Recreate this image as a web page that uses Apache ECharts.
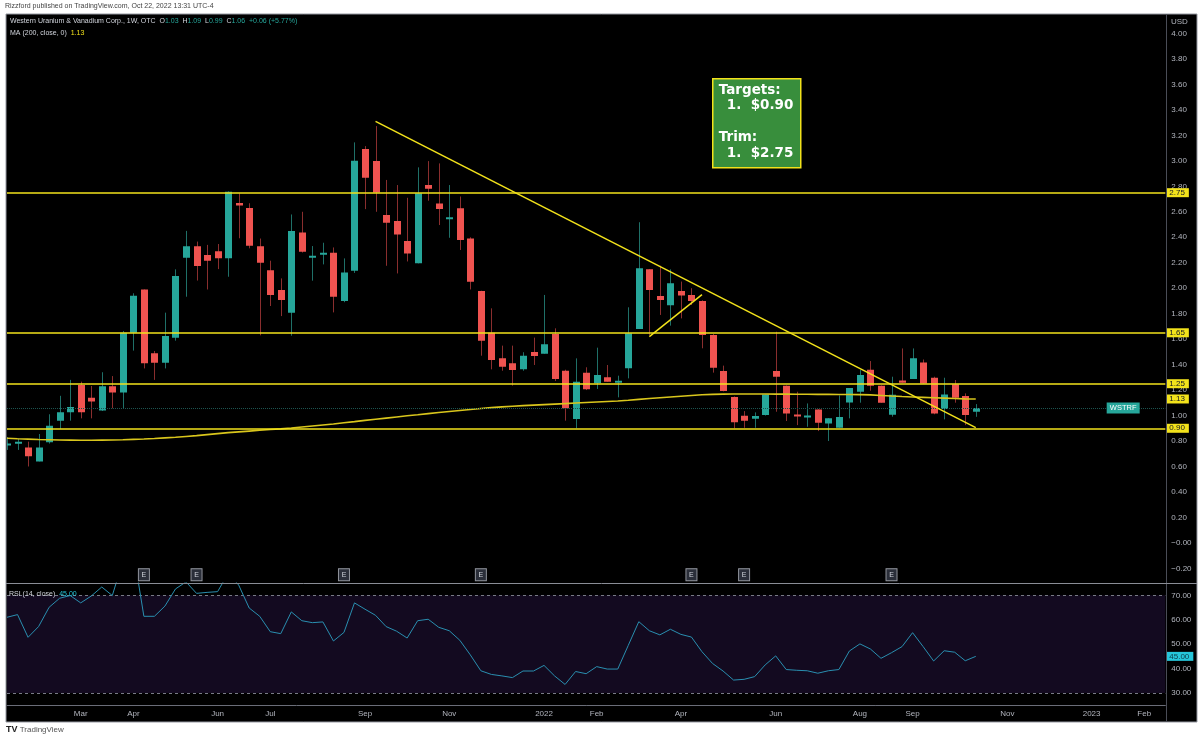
<!DOCTYPE html>
<html><head><meta charset="utf-8">
<script src="https://cdn.jsdelivr.net/npm/echarts@6/dist/echarts.min.js"></script>
<style>html,body{margin:0;padding:0;background:#fff;}#c{width:1200px;height:740px;}</style>
</head><body><div id="c"></div>
<script>
// ---------- data ----------
const firstWeek = '2021-01-11';
const weeksShown = 111; // includes empty future weeks on the right
const openP  = [0.77,0.79,0.75,0.64,0.79,0.96,1.025,1.24,1.14,1.04,1.23,1.18,1.65,1.99,1.49,1.415,1.61,2.24,2.33,2.26,2.29,2.235,2.67,2.63,2.33,2.14,1.985,1.807,2.438,2.245,2.268,2.278,1.899,2.137,3.093,2.998,2.574,2.527,2.37,2.195,2.81,2.666,2.55,2.627,2.39,1.978,1.651,1.449,1.41,1.363,1.499,1.486,1.64,1.352,0.973,1.337,1.253,1.30,1.268,1.371,1.68,2.148,1.939,1.866,1.978,1.947,1.90,1.633,1.35,1.145,0.999,0.975,1.004,1.349,1.234,1.009,0.995,1.048,0.938,0.904,1.103,1.187,1.36,1.234,1.006,1.276,1.287,1.417,1.297,1.051,1.245,1.153,1.03];
const highP  = [0.83,0.82,0.795,0.855,1.01,1.155,1.28,1.266,1.232,1.34,1.31,1.664,1.96,1.99,1.507,1.808,2.148,2.45,2.366,2.34,2.347,2.76,2.745,2.667,2.39,2.216,2.077,2.579,2.60,2.331,2.357,2.32,2.234,3.145,3.116,3.273,2.85,2.81,2.71,2.949,2.998,2.98,2.81,2.72,2.40,1.98,1.842,1.549,1.549,1.497,1.612,1.947,1.685,1.36,1.449,1.379,1.533,1.397,1.313,1.85,2.518,2.15,2.177,2.148,2.052,2.0,1.905,1.64,1.392,1.15,1.035,1.025,1.166,1.658,1.236,1.187,1.095,1.05,0.98,1.158,1.216,1.357,1.428,1.236,1.305,1.527,1.527,1.44,1.305,1.297,1.279,1.174,1.09];
const lowP   = [0.73,0.73,0.60,0.64,0.78,0.895,0.96,0.978,0.978,1.036,1.057,1.057,1.51,1.37,1.28,1.37,1.588,1.933,2.06,1.99,2.15,2.09,2.392,2.313,1.63,1.86,1.781,1.627,2.28,2.059,2.187,1.81,1.89,2.12,2.621,2.60,2.176,2.116,2.21,2.195,2.687,2.496,2.396,2.30,1.99,1.47,1.363,1.352,1.235,1.352,1.397,1.486,1.271,0.96,0.90,1.20,1.209,1.266,1.143,1.292,1.68,1.633,1.79,1.706,1.763,1.868,1.528,1.337,1.19,0.90,0.904,0.904,1.00,1.03,0.957,0.925,0.912,0.878,0.80,0.904,0.978,1.101,1.195,1.101,0.991,1.258,1.287,1.25,1.01,0.97,1.101,0.925,0.99];
const closeP = [0.78,0.795,0.68,0.75,0.92,1.025,1.067,1.025,1.11,1.23,1.18,1.65,1.94,1.41,1.415,1.625,2.096,2.33,2.175,2.215,2.235,2.758,2.65,2.333,2.20,1.946,1.907,2.449,2.286,2.255,2.278,1.933,2.124,3.001,2.868,2.752,2.514,2.422,2.273,2.745,2.78,2.621,2.558,2.378,2.051,1.588,1.436,1.384,1.358,1.47,1.468,1.559,1.287,1.057,1.266,1.206,1.318,1.266,1.274,1.646,2.156,1.986,1.908,2.038,1.942,1.90,1.633,1.376,1.193,0.947,0.96,0.996,1.166,1.305,1.017,0.996,1.0,0.944,0.978,0.988,1.216,1.318,1.234,1.101,1.163,1.258,1.449,1.252,1.017,1.166,1.14,1.004,1.06];
const ma200  = [0.822,0.818,0.815,0.812,0.810,0.808,0.807,0.806,0.806,0.807,0.808,0.810,0.813,0.816,0.820,0.825,0.830,0.836,0.842,0.850,0.858,0.866,0.872,0.878,0.884,0.890,0.895,0.902,0.910,0.918,0.926,0.934,0.943,0.952,0.962,0.971,0.980,0.989,0.998,1.006,1.015,1.024,1.032,1.040,1.048,1.055,1.062,1.068,1.073,1.078,1.082,1.086,1.090,1.094,1.098,1.102,1.106,1.110,1.114,1.120,1.127,1.134,1.140,1.146,1.152,1.158,1.163,1.166,1.168,1.169,1.169,1.169,1.169,1.168,1.168,1.167,1.167,1.166,1.166,1.165,1.165,1.164,1.162,1.158,1.153,1.149,1.146,1.143,1.140,1.137,1.134,1.131,1.13];
const rsi14  = [61.0,62.1,52.8,57.2,65.1,68.8,69.9,66.9,69.7,73.4,69.9,84,88,61.4,61.4,65.6,72.6,75.5,70.8,71.2,71.5,79,74.2,64.8,61.4,55.1,54.3,63.2,59.6,58.8,59.1,51.3,54.8,66.9,64.3,61.8,57.2,55.3,52.5,59.6,60.2,56.9,55.5,51.6,45.6,39.1,37.6,37.0,36.3,39.0,39.0,41.3,37.0,33.5,38.8,37.9,40.8,39.8,39.8,49.5,59.2,55.5,53.8,56.1,54.0,52.9,46.9,42.1,39.0,35.3,35.6,36.7,41.5,45.2,39.6,39.3,39.1,38.1,39.1,39.6,47.2,50.1,48.0,44.2,46.5,49.0,54.7,49.0,43.1,47.3,46.7,43.2,45.0];
const levels = [2.75, 1.65, 1.25, 0.90];
const maLast = 1.13;
const lastClose = 1.06;
const rsiLast = 45.00;
const trendMain  = [[35, 3.31], [92, 0.905]];
const trendSmall = [[61, 1.62], [66, 1.95]];
const earningsIdx = [13, 18, 32, 45, 65, 70, 84];
const earningsLevel = -0.25;
const tagIdx = 106;
const tickIdx  = [7,12,20,25,34,42,51,56,64,73,81,86,95,103,108];
const tickText = ['Mar','Apr','Jun','Jul','Sep','Nov','2022','Feb','Apr','Jun','Aug','Sep','Nov','2023','Feb'];

// ---------- build ----------
const cats = [];
const t0 = Date.parse(firstWeek + 'T00:00:00Z');
for (let i = 0; i < weeksShown; i++) cats.push(new Date(t0 + i * 7 * 864e5).toISOString().slice(0, 10));
const ohlc = openP.map((o, i) => [i, o, closeP[i], lowP[i], highP[i]]);

const UP = '#26a69a', DN = '#ef5350', WUP = '#1f7068', WDN = '#8a2e2e';
const YEL = '#f2e21b', AX = '#b2b5be', FONT = '"Liberation Sans", Arial, sans-serif';
const CLEAR = 'rgba(0,0,0,0)';

function renderCandle(params, api) {
  const i = api.value(0), o = api.value(1), c = api.value(2), l = api.value(3), h = api.value(4);
  const po = api.coord([i, o]), pc = api.coord([i, c]), pl = api.coord([i, l]), ph = api.coord([i, h]);
  const up = c >= o;
  const x = Math.round(po[0]);
  const top = Math.min(po[1], pc[1]), bot = Math.max(po[1], pc[1]);
  return {
    type: 'group', children: [
      { type: 'line', shape: { x1: x + 0.5, y1: ph[1], x2: x + 0.5, y2: pl[1] }, style: { stroke: up ? WUP : WDN, lineWidth: 1 } },
      { type: 'rect', shape: { x: x - 3, y: top, width: 7, height: Math.max(bot - top, 2) }, style: { fill: up ? UP : DN } }
    ]
  };
}

function tagLabel(txt, bg, fg) {
  return { show: true, position: 'end', distance: 1, formatter: txt, backgroundColor: bg, color: fg,
           fontSize: 8, fontFamily: FONT, padding: [1, 4, 0, 3] };
}

const chart = echarts.init(document.getElementById('c'), null, { renderer: 'canvas' });
const option = {
  animation: false,
  backgroundColor: '#ffffff',
  textStyle: { fontFamily: FONT },
  grid: [
    { left: 7, right: 34.7, top: 14.4, height: 566.7 },
    { left: 7, right: 34.7, top: 583.1, height: 122.1 }
  ],
  xAxis: [
    { type: 'category', gridIndex: 0, data: cats, boundaryGap: false, show: false },
    { type: 'category', gridIndex: 1, data: cats, boundaryGap: false,
      axisLine: { show: true, lineStyle: { color: '#6a6d78' } }, axisTick: { show: false }, splitLine: { show: false },
      axisLabel: { color: AX, fontSize: 8, margin: 5, fontFamily: FONT,
        interval: (idx) => tickIdx.indexOf(idx) >= 0,
        formatter: (v, idx) => { const k = tickIdx.indexOf(idx); return k >= 0 ? tickText[k] : ''; } } }
  ],
  yAxis: [
    { type: 'value', gridIndex: 0, position: 'right', min: -0.3, max: 4.15, interval: 0.05,
      axisLine: { show: false }, axisTick: { show: false }, splitLine: { show: false },
      axisLabel: { color: AX, fontSize: 8, margin: 6, fontFamily: FONT,
        formatter: (v) => {
          const k = v * 5;
          if (Math.abs(k - Math.round(k)) > 1e-6 || v < -0.25 || v > 4.05) return '';
          if (Math.abs(v) < 1e-6) return '\u22120.00';
          return v < 0 ? '\u2212' + Math.abs(v).toFixed(2) : v.toFixed(2);
        } } },
    { type: 'value', gridIndex: 1, position: 'right', min: 25, max: 75, interval: 5,
      axisLine: { show: false }, axisTick: { show: false }, splitLine: { show: false },
      axisLabel: { color: AX, fontSize: 8, margin: 6, fontFamily: FONT,
        formatter: (v) => (v % 10 === 0 && v > 25 && v < 75) ? v.toFixed(2) : '' } }
  ],
  series: [
    { type: 'custom', name: 'candles', xAxisIndex: 0, yAxisIndex: 0, data: ohlc, renderItem: renderCandle,
      encode: { x: 0, y: [1, 2, 3, 4] }, z: 3, clip: true },
    { type: 'line', name: 'MA200', xAxisIndex: 0, yAxisIndex: 0, data: ma200, showSymbol: false, symbol: 'none',
      lineStyle: { color: '#d9c61c', width: 1.6 }, z: 4,
      markLine: { symbol: 'none', silent: true, animation: false,
        data: levels.map(v => ({ yAxis: v, lineStyle: { color: YEL, width: 1.5, type: 'solid' }, label: tagLabel(v.toFixed(2), YEL, '#131722') }))
          .concat([
            { yAxis: maLast, lineStyle: { color: CLEAR, width: 1 }, label: tagLabel(maLast.toFixed(2), YEL, '#131722') },
            { yAxis: lastClose, lineStyle: { color: '#1c5450', width: 1, type: 'dotted' }, label: { show: false } }
          ]) },
      markPoint: { silent: true, animation: false,
        data: earningsIdx.map(i => ({ coord: [i, earningsLevel], symbol: 'rect', symbolSize: [11, 12],
          itemStyle: { color: '#2a2e39', borderColor: '#9598a1', borderWidth: 1 },
          label: { show: true, formatter: 'E', color: '#d1d4dc', fontSize: 7, fontFamily: FONT } }))
          .concat([{ coord: [tagIdx, lastClose], symbol: 'rect', symbolSize: [33, 11], itemStyle: { color: UP },
            label: { show: true, formatter: 'WSTRF', color: '#ffffff', fontSize: 7.5, fontFamily: FONT } }]) } },
    { type: 'line', name: 'trend', xAxisIndex: 0, yAxisIndex: 0, data: trendMain, showSymbol: false, symbol: 'none',
      lineStyle: { color: YEL, width: 1.5 }, z: 5 },
    { type: 'line', name: 'trend2', xAxisIndex: 0, yAxisIndex: 0, data: trendSmall, showSymbol: false, symbol: 'none',
      lineStyle: { color: YEL, width: 1.5 }, z: 5 },
    { type: 'line', name: 'RSI', xAxisIndex: 1, yAxisIndex: 1, data: rsi14, showSymbol: false, symbol: 'none',
      lineStyle: { color: '#2a8fb0', width: 1 }, z: 5, clip: true,
      markArea: { silent: true, itemStyle: { color: '#130a20' }, data: [[{ yAxis: 30 }, { yAxis: 70 }]] },
      markLine: { symbol: 'none', silent: true, animation: false,
        data: [
          { yAxis: 70, lineStyle: { color: '#787b86', width: 1, type: [3, 3] }, label: { show: false } },
          { yAxis: 30, lineStyle: { color: '#787b86', width: 1, type: [3, 3] }, label: { show: false } },
          { yAxis: rsiLast, lineStyle: { color: CLEAR, width: 1 }, label: tagLabel(rsiLast.toFixed(2), '#26c6da', '#0b3c49') }
        ] } }
  ],
  graphic: [
    { type: 'rect', z: -10, silent: true, shape: { x: 6, y: 14, width: 1191, height: 708 },
      style: { fill: '#000000', stroke: '#9598a1', lineWidth: 1 } },
    { type: 'line', z: 10, silent: true, shape: { x1: 1166.5, y1: 14, x2: 1166.5, y2: 722 }, style: { stroke: '#4a4d57', lineWidth: 1 } },
    { type: 'line', z: 10, silent: true, shape: { x1: 6, y1: 583.5, x2: 1197, y2: 583.5 }, style: { stroke: '#8a8d96', lineWidth: 1 } },
    { type: 'text', z: 20, silent: true, left: 5, top: 3,
      style: { text: 'Rizzford published on TradingView.com, Oct 22, 2022 13:31 UTC-4', fill: '#444', font: '7px ' + FONT } },
    { type: 'text', z: 20, silent: true, left: 10, top: 18,
      style: { text: 'Western Uranium & Vanadium Corp., 1W, OTC  O{v|1.03}  H{v|1.09}  L{v|0.99}  C{v|1.06}  {v|+0.06 (+5.77%)}',
        fill: '#d1d4dc', font: '7px ' + FONT, rich: { v: { fill: UP, font: '7px ' + FONT } } } },
    { type: 'text', z: 20, silent: true, left: 10, top: 30,
      style: { text: 'MA (200, close, 0)  {y|1.13}', fill: '#d1d4dc', font: '7px ' + FONT,
        rich: { y: { fill: YEL, font: '7px ' + FONT } } } },
    { type: 'text', z: 20, silent: true, left: 1171, top: 18, style: { text: 'USD', fill: AX, font: '8px ' + FONT } },
    { type: 'text', z: 20, silent: true, left: 9, top: 591,
      style: { text: 'RSI (14, close)  {v|45.00}', fill: '#d1d4dc', font: '7px ' + FONT,
        rich: { v: { fill: '#26c6da', font: '7px ' + FONT } } } },
    { type: 'group', z: 20, left: 712, top: 78, children: [
      { type: 'rect', shape: { x: 0, y: 0, width: 88, height: 89 }, style: { fill: '#388e3c', stroke: YEL, lineWidth: 1.5 } },
      { type: 'text', x: 6, y: 5, style: { text: 'Targets:', fill: '#ffffff', font: 'bold 13.5px "DejaVu Sans", sans-serif' } },
      { type: 'text', x: 14, y: 20, style: { text: '1.  $0.90', fill: '#ffffff', font: 'bold 13.5px "DejaVu Sans", sans-serif' } },
      { type: 'text', x: 6, y: 52, style: { text: 'Trim:', fill: '#ffffff', font: 'bold 13.5px "DejaVu Sans", sans-serif' } },
      { type: 'text', x: 14, y: 68, style: { text: '1.  $2.75', fill: '#ffffff', font: 'bold 13.5px "DejaVu Sans", sans-serif' } }
    ] },
    { type: 'text', z: 20, silent: true, left: 6, top: 725,
      style: { text: '{b|TV} TradingView', fill: '#555', font: '8px ' + FONT, rich: { b: { fill: '#222', font: 'bold 9px ' + FONT } } } }
  ]
};
chart.setOption(option);
</script></body></html>
